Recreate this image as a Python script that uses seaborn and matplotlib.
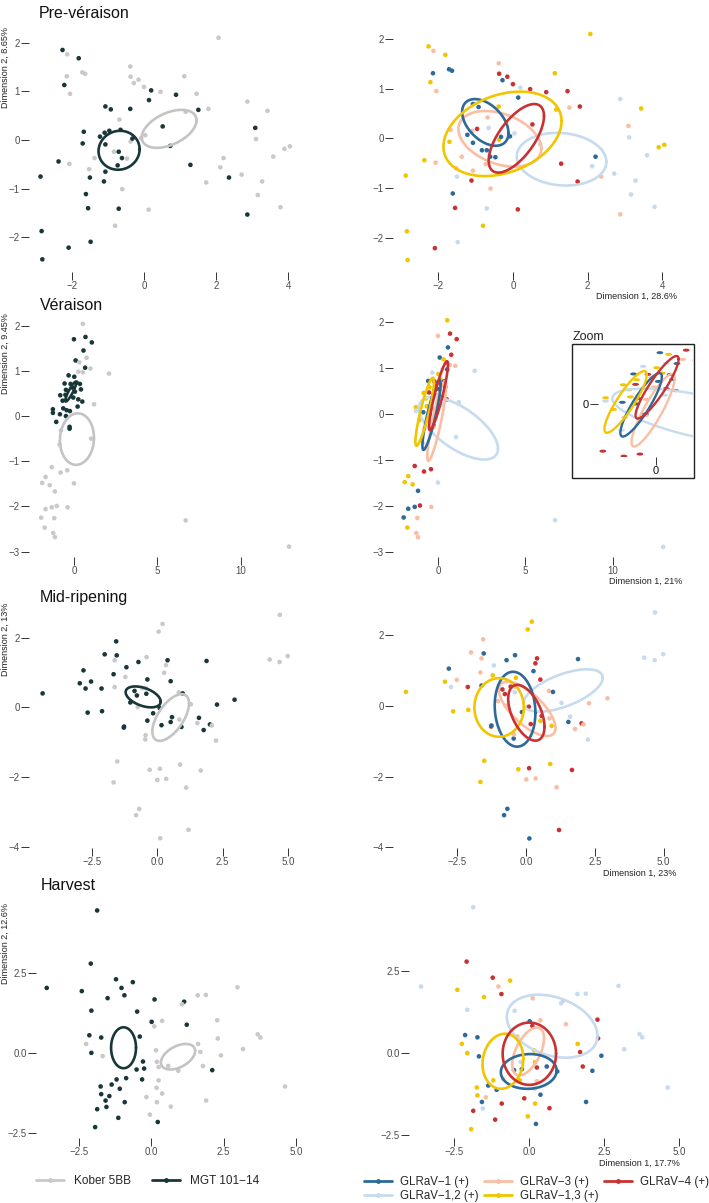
"""
PCA score plots of berry samples by rootstock (left) and virus status (right)
across four phenological stages.
"""
import numpy as np
import matplotlib
matplotlib.use("Agg")
import matplotlib.pyplot as plt
import pandas as pd
import seaborn as sns
from matplotlib.lines import Line2D
from matplotlib.patches import Rectangle
from matplotlib.path import Path
from matplotlib.transforms import Affine2D

# ---------------------------------------------------------------- data
# virus codes: B=GLRaV-1, L=GLRaV-1,2, P=GLRaV-3, Y=GLRaV-1,3, R=GLRaV-4
# rootstock codes: K=Kober 5BB, M=MGT 101-14
pre_x = [2.07, -2.26, -2.13, -1.81, -2.14, -1.71, -1.63, -2.21, -2.05, -0.38,
         -0.37, -0.28, -0.15, 0.00, 0.20, 0.46, 0.89, 1.12, 1.46, 0.14,
         1.51, 1.79, 1.16, 2.87, 3.43, 3.09, 3.11, 3.90, 4.05, 3.59,
         -1.07, -0.92, -0.68, -0.96, -0.65, -1.22, -1.07, -1.09, -0.83, -0.70,
         -0.37, -0.32, -0.08, 0.04, 0.52, -0.61, -0.47, -1.37, -1.70, -2.37,
         -2.07, -1.50, -1.52, -1.07, -0.73, -1.11, -0.60, -1.61, -1.55, -0.70,
         0.13, -0.80, -2.87, -2.84, -2.09, -1.48, -2.82, 1.29, 2.21, 2.12,
         1.73, 2.36, 2.71, 3.28, 3.16, 2.87, 3.79, -0.38, -1.67, 0.73]
pre_y = [2.10, 1.85, 1.76, 1.68, 1.31, 1.39, 1.36, 1.13, 0.95, 1.51,
         1.30, 1.17, 1.24, 1.09, 1.02, 0.99, 0.93, 1.31, 0.95, 0.82,
         0.62, 0.64, 0.58, 0.79, 0.60, 0.25, 0.02, -0.18, -0.13, -0.34,
         0.69, 0.63, 0.42, 0.19, 0.21, 0.07, -0.09, 0.15, -0.24, -0.24,
         -0.03, 0.03, 0.04, 0.10, 0.28, -0.37, -0.38, -0.37, -0.07, -0.44,
         -0.49, -0.77, -0.60, -0.65, -0.52, -0.85, -1.01, -1.11, -1.40, -1.41,
         -1.43, -1.76, -0.75, -1.87, -2.21, -2.09, -2.45, -0.51, -0.37, -0.56,
         -0.87, -0.77, -0.71, -0.85, -1.13, -1.53, -1.38, 0.64, 0.17, -0.12]
pre_virus = list("YYPYBBBYPP" "RBRRLRRYRB" "PRYLYPLYYL" "BBPRLBBPBB"
                 "YBBLRBBPYY" "PLPPPRPBRL" "RYYYRLYRBL" "RPLLLPLYPL")
pre_root = list("KMKMKKKMKK" "KKKKMKMKKM" "MKKKKMKKKK" "MMKMMMMMKM"
                "KMKKMMKKMM" "KMKMMMKMMM" "KKMMMMMMKK" "KMKKKMKMMM")

ver_x = [0.53, 0.00, 0.69, 1.07, 0.57, 0.76, 0.10, 0.32, 0.99, 0.67,
         0.53, 2.10, 0.26, -0.32, 0.02, -0.56, -0.20, 0.16, 0.36, -0.10,
         -0.48, 0.06, 0.42, -0.82, -0.51, -0.68, -0.04, 0.26, 0.50, -1.26,
         -1.26, -0.84, -0.64, -0.44, -0.24, -0.48, -1.06, 0.22, -0.26, -0.26,
         1.20, -0.86, 1.03, -0.78, -1.33, -0.80, -0.40, -1.70, -1.90, -1.45,
         0.00, -1.14, -1.03, -1.70, -1.33, -0.38, -1.96, -1.18, -1.75, -1.24,
         -1.14, 6.69, 12.87]
ver_y = [2.04, 1.70, 1.75, 1.63, 1.45, 1.29, 1.23, 1.19, 1.05, 1.07,
         0.97, 0.94, 0.98, 0.90, 0.87, 0.72, 0.71, 0.74, 0.71, 0.63,
         0.58, 0.54, 0.59, 0.46, 0.47, 0.34, 0.41, 0.37, 0.32, 0.15,
         0.07, 0.04, 0.17, 0.13, 0.11, 0.00, -0.13, 0.21, -0.24, -0.28,
         0.26, -0.63, -0.50, -0.32, -1.13, -1.25, -1.20, -1.35, -1.48, -1.53,
         -1.49, -1.67, -1.99, -2.06, -2.02, -2.02, -2.25, -2.26, -2.47, -2.59,
         -2.68, -2.31, -2.89]
ver_virus = list("YPRRBRBYPP" "BLLLYBRYBP" "YBBYRYPRRY" "LBYRPBYLBP"
                 "LLLPRRRYYY" "LBRBBPBPYP" "PLL")
ver_root = list("KMMMMKMKKM" "KKKMMMMMMM" "MMMMMMMMMM" "MMMMMMMMMM"
                "KKKKKKKKKK" "KKKKKKKKKK" "KKK")

mid_x = [4.69, 4.99, 4.30, 4.68, 0.21, 0.06, -1.56, -2.00, -1.54, -1.62,
         -0.71, -0.40, 0.40, 0.34, 1.89, -2.81, -1.17, 0.27, -1.66, -1.21,
         -2.52, -2.95, -2.73, -2.12, -1.62, -0.37, 0.52, -4.37, -0.86, -0.77,
         -0.56, -0.42, -0.41, 0.83, 0.98, -1.02, -0.74, 1.29, 2.29, 2.96,
         -2.65, -2.10, -0.15, 0.10, -0.37, 0.57, 0.85, 0.52, 0.93, 0.17,
         -1.27, -1.26, 1.60, 1.54, 2.02, 2.09, 1.78, 2.25, -0.45, -0.44,
         -1.52, 0.88, -0.28, 0.11, 1.67, -1.66, 0.01, 0.35, 1.11, -0.68,
         -0.80, 1.20, 0.12]
mid_y = [2.65, 1.47, 1.37, 1.30, 2.39, 2.17, 1.89, 1.52, 1.49, 1.35,
         1.30, 1.44, 1.35, 1.21, 1.33, 1.06, 1.15, 0.99, 0.95, 0.87,
         0.74, 0.69, 0.54, 0.54, 0.58, 0.80, 0.75, 0.40, 0.47, 0.34,
         0.55, 0.55, 0.39, 0.43, 0.40, 0.14, 0.01, 0.09, 0.08, 0.22,
         -0.15, -0.11, -0.17, -0.02, -0.38, -0.28, -0.35, -0.42, -0.56, -0.51,
         -0.58, -0.55, -0.30, -0.45, -0.49, -0.52, -0.65, -0.95, -0.92, -0.80,
         -1.55, -1.64, -1.79, -1.76, -1.81, -2.15, -2.08, -2.05, -2.30, -2.91,
         -3.09, -3.51, -3.75]
mid_virus = list("LLLLYYPPBP" "BBRRBBLBPY" "PYLRBYRYRR" "RPLPBPPLPP"
                 "YYBRLRPYYR" "RBLBRPPLBP" "YYYRRYPPPB" "BRB")
mid_root = list("KKKKKKMMMK" "MKMKMMMKMK" "MMMMKMMMMM" "KKMKMMKKMM"
                "MMMMMMKMMM" "MMMKMKMKKK" "KKKKKKKKKK" "KKK")

har_x = [-1.86, -3.60, -2.08, -1.21, -0.63, -2.39, -1.02, -1.50, -0.92, -2.06,
         2.98, 1.61, 1.89, 0.12, 1.14, 1.07, -0.48, 0.02, 0.38, 1.23,
         0.11, 2.28, -2.13, -1.72, -0.39, 3.68, 3.77, 2.30, -2.24, 1.62,
         3.17, 1.70, 2.41, -2.06, -1.67, 0.17, -0.28, -0.24, 0.20, 0.26,
         0.59, 0.94, 1.79, 2.11, -0.86, -1.19, -1.36, -1.08, -1.74, -1.72,
         -1.44, -1.57, -1.54, -0.91, -1.86, -1.13, -1.93, -0.16, 0.38, 0.20,
         0.68, -0.04, 0.23, 1.90, 4.62, -0.50, -0.31, 0.26, 0.19]
har_y = [4.45, 2.03, 2.79, 2.30, 2.21, 1.93, 2.03, 1.71, 1.80, 1.32,
         2.05, 1.80, 1.81, 1.67, 1.60, 1.52, 1.29, 0.97, 1.00, 0.88,
         0.83, 1.02, 0.55, 0.48, 0.51, 0.58, 0.48, 0.45, 0.28, 0.28,
         0.12, 0.03, -0.08, 0.00, -0.10, 0.08, -0.27, -0.49, -0.28, -0.44,
         -0.41, -0.56, -0.41, -0.54, -0.79, -0.83, -0.99, -1.12, -1.05, -1.29,
         -1.35, -1.49, -1.69, -1.54, -1.76, -2.03, -2.32, -1.38, -1.27, -1.54,
         -1.68, -1.93, -2.16, -1.49, -1.05, -0.52, -0.83, -0.86, -1.09]
har_virus = list("LLRRYYPYRL" "LLLPPLLBPP" "RRBBPLLRYY" "LRBYBYLBYR"
                 "BBRBPYBBYY" "PBLRRRYRBY" "RYBBLBYPL")
har_root = list("MMMMMMMMMM" "KKKMMKMMKM" "KKMMMKKKKK" "KKKMKKMMKK"
                "KKKMMMMMMM" "MMMMMMMKKK" "KKMKKMMKK")

# confidence ellipses: centre x, centre y, half width, half height, tilt
pre_root_ell = {"K": (0.70, 0.23, 0.76, 0.39, 0.45), "M": (-0.69, -0.21, 0.57, 0.40, 0.05)}
pre_virus_ell = {"L": (1.30, -0.42, 1.20, 0.53, -0.1), "P": (-0.35, -0.01, 1.11, 0.56, -0.35),
                 "B": (-0.74, 0.32, 0.62, 0.47, -0.45), "Y": (-0.28, 0.09, 1.58, 0.85, 0.3),
                 "R": (0.09, 0.00, 0.74, 0.69, 0.65)}
ver_root_ell = {"K": (0.18, -0.51, 1.02, 0.57, 0.05), "M": (-0.19, 0.54, 0.33, 0.22, 0.9)}
ver_virus_ell = {"L": (1.17, -0.31, 2.26, 0.68, -0.65), "P": (-0.07, -0.15, 0.54, 0.87, 0.88),
                 "B": (-0.37, -0.02, 0.52, 0.76, 0.88), "Y": (-0.76, 0.05, 0.53, 0.74, 0.88),
                 "R": (0.03, 0.40, 0.54, 0.75, 0.9)}
mid_root_ell = {"K": (0.52, -0.29, 0.70, 0.67, 0.6), "M": (-0.53, 0.30, 0.67, 0.30, -0.45)}
mid_virus_ell = {"L": (1.35, 0.44, 1.44, 0.60, 0.6), "P": (0.04, -0.08, 1.03, 0.77, -0.7),
                 "B": (-0.40, -0.09, 0.74, 1.06, -0.1), "Y": (-0.98, -0.04, 0.90, 0.83, 0.0),
                 "R": (0.01, -0.19, 0.66, 0.79, -0.5)}
har_root_ell = {"K": (0.93, -0.12, 0.59, 0.40, 0.45), "M": (-0.95, 0.16, 0.43, 0.64, 0.0)}
har_virus_ell = {"L": (0.77, 0.82, 1.51, 0.96, -0.3), "P": (-0.03, 0.05, 0.53, 0.73, 0.55),
                 "B": (-0.01, -0.56, 0.93, 0.53, 0.05), "Y": (-0.87, -0.25, 0.68, 0.84, 0.1),
                 "R": (0.01, -0.02, 0.89, 0.95, 0.0)}

stage_titles = ["Pre-véraison", "Véraison", "Mid-ripening", "Harvest"]
dim1_labels = ["Dimension 1, 28.6%", "Dimension 1, 21%", "Dimension 1, 23%", "Dimension 1, 17.7%"]
dim2_labels = ["Dimension 2, 8.65%", "Dimension 2, 9.45%", "Dimension 2, 13%", "Dimension 2, 12.6%"]

root_names = {"K": "Kober 5BB", "M": "MGT 101\u221214"}
virus_names = {"B": "GLRaV\u22121 (+)", "L": "GLRaV\u22121,2 (+)", "P": "GLRaV\u22123 (+)",
               "Y": "GLRaV\u22121,3 (+)", "R": "GLRaV\u22124 (+)"}
root_colors = {"K": "#c9c9c9", "M": "#193638"}
virus_colors = {"B": "#2d6a99", "L": "#c6dbef", "P": "#fbbea3", "Y": "#f1c500", "R": "#c93232"}

# ---------------------------------------------------------------- layout
W, H = 709, 1203
sns.set_theme(style="white")
plt.rcParams["font.family"] = ["Liberation Sans", "DejaVu Sans"]
fig = plt.figure(figsize=(W / 100, H / 100), dpi=100)


def fmt_tick(v, fmt):
    return fmt.format(v).replace("-", "\u2212")


def add_panel(box, xlim, ylim, xticks, yticks, xfmt, yfmt):
    l, t, r, b = box
    ax = fig.add_axes([l / W, 1 - b / H, (r - l) / W, (b - t) / H])
    ax.set_xlim(xlim)
    ax.set_ylim(ylim)
    for s in ax.spines.values():
        s.set_visible(False)
    ax.set_xticks(xticks)
    ax.set_yticks(yticks)
    ax.set_xticklabels([fmt_tick(v, xfmt) for v in xticks])
    ax.set_yticklabels([fmt_tick(v, yfmt) for v in yticks])
    ax.tick_params(bottom=True, left=True, length=5.5, width=0.7, color="#333333",
                   labelcolor="#4d4d4d", labelsize=7, pad=1)
    return ax


def draw_ellipse(ax, params, color, lw=1.9):
    cx, cy, hx, hy, rho = params
    t = np.linspace(0, 2 * np.pi, 240)
    ex = cx + hx * np.cos(t)
    ey = cy + hy * (rho * np.cos(t) + np.sqrt(1 - rho ** 2) * np.sin(t))
    ax.plot(ex, ey, color=color, lw=lw)


def scatter(ax, df, col, colors, s=11, marker="o"):
    sns.scatterplot(data=df, x="x", y="y", hue=col, palette=colors, s=s,
                    marker=marker, linewidth=0, legend=False, ax=ax)
    ax.set_xlabel("")
    ax.set_ylabel("")


stages = [
    (pre_x, pre_y, pre_virus, pre_root, pre_root_ell, pre_virus_ell),
    (ver_x, ver_y, ver_virus, ver_root, ver_root_ell, ver_virus_ell),
    (mid_x, mid_y, mid_virus, mid_root, mid_root_ell, mid_virus_ell),
    (har_x, har_y, har_virus, har_root, har_root_ell, har_virus_ell),
]

# panel boxes in pixels (left, top, right, bottom) and axis ranges
left_boxes = [(29, 30, 305, 272), (29, 318, 305, 557), (29, 610, 305, 848), (36, 898, 305, 1138)]
right_boxes = [(393, 30, 680, 272), (393, 318, 680, 557), (393, 610, 680, 848), (409, 898, 680, 1138)]
left_lims = [((-3.19, 4.47), (-2.71, 2.26)), ((-2.69, 13.83), (-3.12, 2.17)),
             ((-4.89, 5.65), (-4.03, 2.79)), ((-3.97, 5.31), (-2.66, 4.84))]
right_lims = [((-3.21, 4.47), (-2.69, 2.18)), ((-2.57, 13.83), (-3.11, 2.09)),
              ((-4.84, 5.60), (-4.02, 2.72)), ((-4.00, 5.03), (-2.59, 4.73))]
ticks = [([-2, 0, 2, 4], [-2, -1, 0, 1, 2], "{:.0f}", "{:.0f}"),
         ([0, 5, 10], [-3, -2, -1, 0, 1, 2], "{:.0f}", "{:.0f}"),
         ([-2.5, 0.0, 2.5, 5.0], [-4, -2, 0, 2], "{:.1f}", "{:.0f}"),
         ([-2.5, 0.0, 2.5, 5.0], [-2.5, 0.0, 2.5], "{:.1f}", "{:.1f}")]
title_pos = [(39, 13), (40, 305), (40, 597), (41, 885)]
ylab_top = [27, 313, 603, 903]
xlab_pos = [(677, 296), (682, 581), (676, 873), (680, 1163)]

for i, (xs, ys, vir, root, r_ell, v_ell) in enumerate(stages):
    df = pd.DataFrame({"x": xs, "y": ys, "virus": vir, "root": root})
    xt, yt, xfmt, yfmt = ticks[i]
    axl = add_panel(left_boxes[i], *left_lims[i], xt, yt, xfmt, yfmt)
    axr = add_panel(right_boxes[i], *right_lims[i], xt, yt, xfmt, yfmt)

    scatter(axl, df, "root", root_colors)
    for k in ["K", "M"]:
        draw_ellipse(axl, r_ell[k], "#c4c4c4" if k == "K" else root_colors[k])

    scatter(axr, df, "virus", virus_colors)
    for k in ["L", "P", "B", "Y", "R"]:
        draw_ellipse(axr, v_ell[k], virus_colors[k])

    tx, ty = title_pos[i]
    fig.text(tx / W, 1 - ty / H, stage_titles[i], fontsize=11.5, ha="left", va="center",
             color="#111111")
    fig.text(5 / W, 1 - ylab_top[i] / H, dim2_labels[i], rotation=90, ha="center",
             va="top", fontsize=6.5, color="#222222")
    lx, ly = xlab_pos[i]
    fig.text(lx / W, 1 - ly / H, dim1_labels[i], ha="right", va="center",
             fontsize=6.5, color="#222222")

    if i == 1:
        # zoomed view of the véraison cluster
        axz = add_panel((598, 346, 693, 457), (-1.45, 0.93), (-1.27, 1.39),
                        [0], [0], "{:.0f}", "{:.0f}")
        axz.tick_params(labelcolor="#111111", labelsize=8)
        flat = Path.unit_circle().transformed(Affine2D().scale(1.0, 0.45))
        scatter(axz, df, "virus", virus_colors, s=24, marker=flat)
        for k in ["L", "P", "B", "Y", "R"]:
            draw_ellipse(axz, v_ell[k], virus_colors[k], lw=1.7)
        fig.add_artist(Rectangle((572 / W, 1 - 478 / H), 122 / W, 134 / H,
                                 transform=fig.transFigure, fill=False, lw=1.0,
                                 ec="#222222"))
        fig.text(573 / W, 1 - 337 / H, "Zoom", fontsize=9, ha="left", va="center")


# ---------------------------------------------------------------- legends
def handle(color):
    return Line2D([0], [0], color=color, lw=2, marker="o", ms=2.5)


fig.legend([handle(root_colors[k]) for k in ["K", "M"]],
           [root_names[k] for k in ["K", "M"]],
           loc="center left", bbox_to_anchor=(36 / W, 1 - 1181 / H), ncol=2,
           frameon=False, fontsize=8.5, handlelength=2.4, handletextpad=0.8,
           columnspacing=1.8, borderpad=0, borderaxespad=0)
order = ["B", "L", "P", "Y", "R"]
fig.legend([handle(virus_colors[k]) for k in order],
           [virus_names[k] for k in order],
           loc="center left", bbox_to_anchor=(364 / W, 1 - 1189 / H), ncol=3,
           frameon=False, fontsize=8.3, handlelength=2.4, handletextpad=0.7,
           columnspacing=0.5, labelspacing=0.1, borderpad=0, borderaxespad=0)

fig.savefig("out.png", dpi=100)
